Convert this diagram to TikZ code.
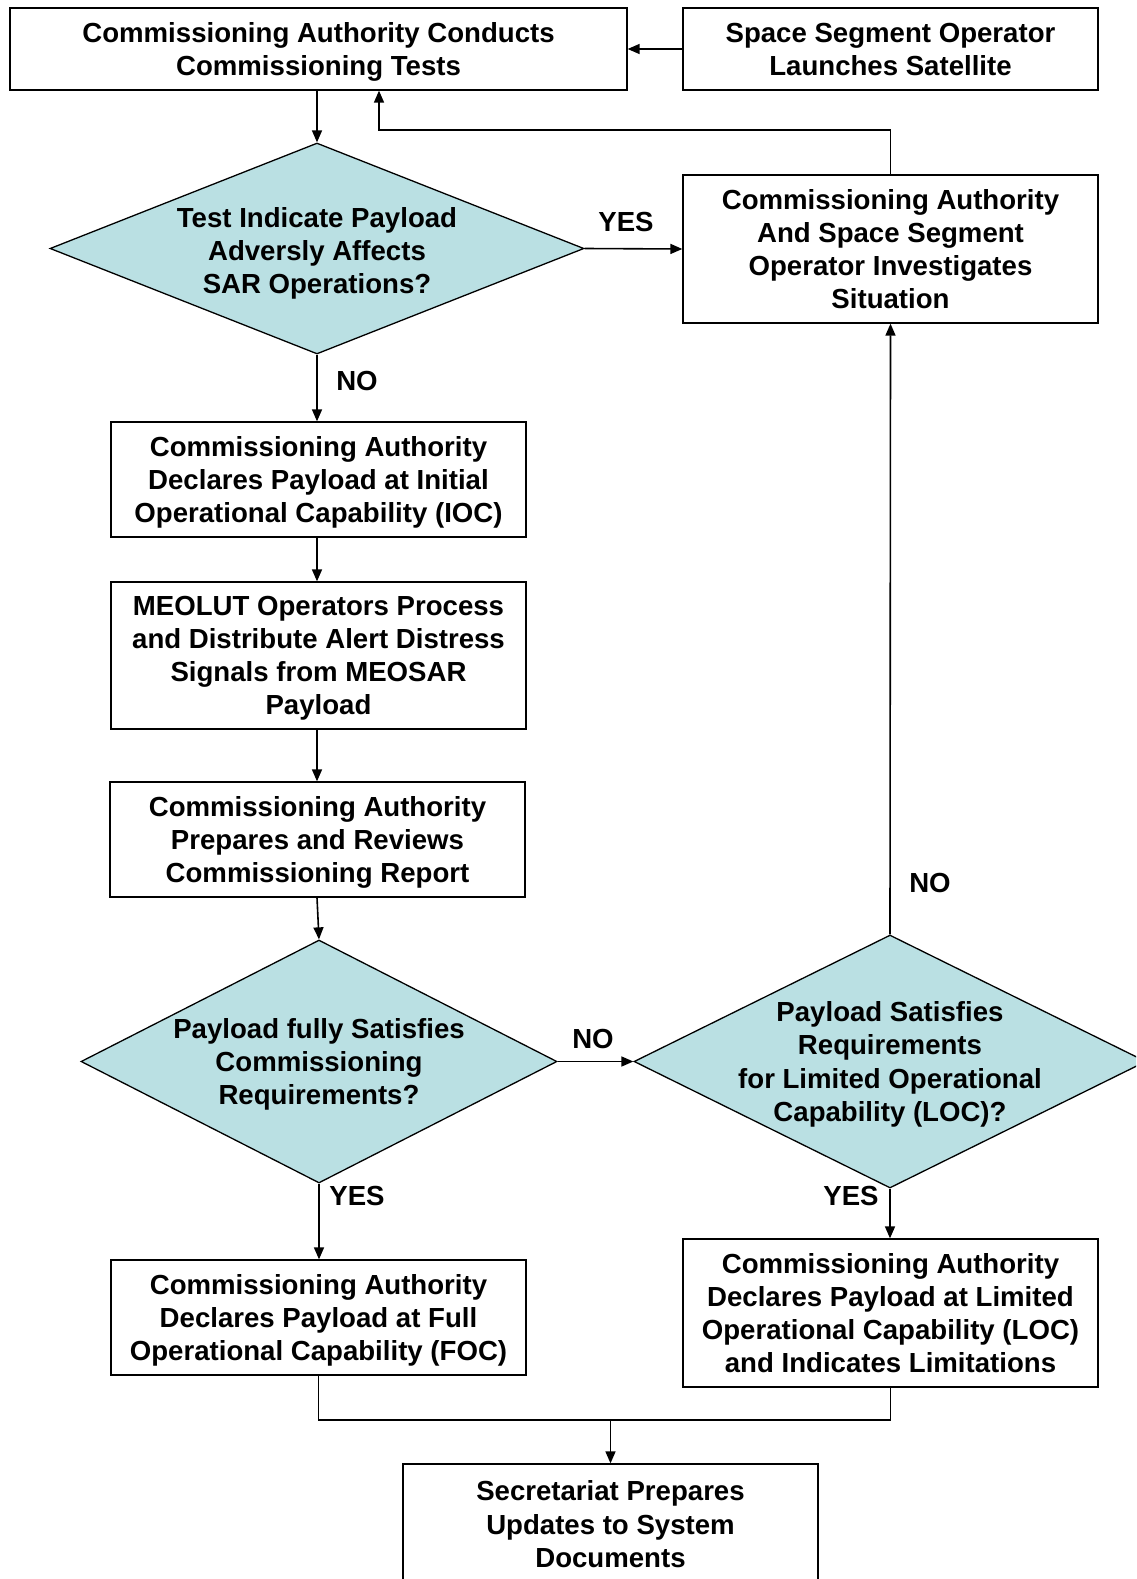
\documentclass[tikz,border=0pt]{standalone}
\usepackage{fontspec}
\setmainfont{Liberation Sans}
\usetikzlibrary{shapes.geometric,arrows.meta}
\definecolor{diafill}{RGB}{186,224,227}
\begin{document}
\begin{tikzpicture}[x=1pt,y=-1pt,
  every node/.style={font=\fontsize{27.6}{33.2}\selectfont\bfseries},
  box/.style={draw,line width=1.3pt,rectangle,inner sep=0pt,align=center,text depth=0pt},
  dia/.style={draw,line width=1.3pt,diamond,fill=diafill,inner sep=0pt},
  dtxt/.style={align=center,inner sep=0pt,text depth=0pt},
  arr/.style={line width=1.6pt,-{Triangle[length=12pt,width=10pt]}},
  ln/.style={line width=1.6pt},
  lab/.style={inner sep=0pt}]
\useasboundingbox (0,0) rectangle (1136,1579);
\clip (0,0) rectangle (1136,1579);
% boxes
\node[box,minimum width=617,minimum height=82] (A) at (318.5,49) {Commissioning Authority Conducts\\Commissioning Tests};
\node[box,minimum width=415,minimum height=82] (B) at (890.5,49) {Space Segment Operator\\Launches Satellite};
\node[box,minimum width=415,minimum height=148] (C) at (890.5,249) {Commissioning Authority\\And Space Segment\\Operator Investigates\\Situation};
\node[dia,minimum width=534,minimum height=211] (D1) at (317,248.5) {};
\node[dtxt] (D1t) at (317,250.5) {Test Indicate Payload\\Adversly Affects\\SAR Operations?};
\node[box,minimum width=415,minimum height=115] (D) at (318.5,479.5) {Commissioning Authority\\Declares Payload at Initial\\Operational Capability (IOC)};
\node[box,minimum width=415,minimum height=147] (E) at (318.5,655.5) {MEOLUT Operators Process\\and Distribute Alert Distress\\Signals from MEOSAR\\Payload};
\node[box,minimum width=415,minimum height=115] (F) at (317.5,839.5) {Commissioning Authority\\Prepares and Reviews\\Commissioning Report};
\node[dia,minimum width=476,minimum height=243] (D2) at (319,1061.5) {};
\node[dtxt] (D2t) at (D2.center) {Payload fully Satisfies\\Commissioning\\Requirements?};
\node[dia,minimum width=512,minimum height=253] (D3) at (890,1061.5) {};
\node[dtxt] (D3t) at (D3.center) {Payload Satisfies\\Requirements\\for Limited Operational\\Capability (LOC)?};
\node[box,minimum width=415,minimum height=115] (G) at (318.5,1317.5) {Commissioning Authority\\Declares Payload at Full\\Operational Capability (FOC)};
\node[box,minimum width=415,minimum height=148] (H) at (890.5,1313) {Commissioning Authority\\Declares Payload at Limited\\Operational Capability (LOC)\\and Indicates Limitations};
\node[box,minimum width=415,minimum height=120] (I) at (610.5,1524) {Secretariat Prepares\\Updates to System\\Documents};
% connectors
\draw[arr] (B.west) -- (A.east);
\draw[arr] (D1.north |- A.south) -- (D1.north);
\draw[arr] (D1.east) -- (C.west);
\coordinate (lp) at (379,130);
\draw[arr] (C.north) |- (lp) -- (lp |- A.south);
\draw[arr] (D1.south) -- (D1.south |- D.north);
\draw[arr] (D1.south |- D.south) -- (D1.south |- E.north);
\draw[arr] (D1.south |- E.south) -- (D1.south |- F.north);
\draw[arr] (D1.south |- F.south) -- (D2.north);
\draw[arr] (D2.east) -- (D3.west);
\draw[arr] (D3.north) -- (C.south);
\draw[arr] (D2.south) -- (D2.south |- G.north);
\draw[arr] (D3.south) -- (D3.south |- H.north);
\coordinate (j) at (610.5,1420);
\draw[ln] (G.south) |- (j) -| (H.south);
\draw[arr] (j) -- (I.north);
% labels
\node[lab] (yes1) at (626,222) {YES};
\node[lab] (no1) at (357,381) {NO};
\node[lab] (no2) at (593,1039) {NO};
\node[lab] (no3) at (930,883) {NO};
\node[lab] (yes2) at (357,1196) {YES};
\node[lab] (yes3) at (851,1196) {YES};
\end{tikzpicture}
\end{document}
